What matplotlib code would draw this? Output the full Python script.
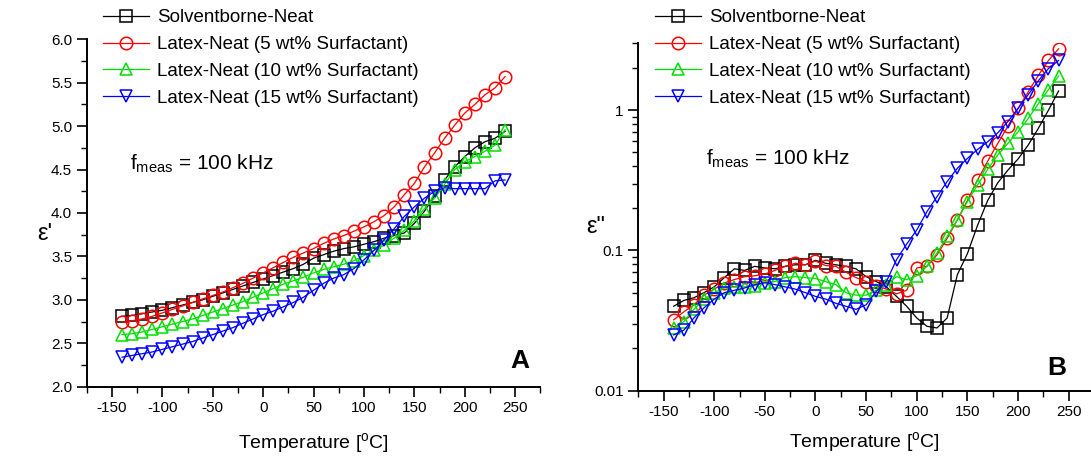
import numpy as np
import matplotlib
matplotlib.use('Agg')
from matplotlib import pyplot as plt
from matplotlib.ticker import MultipleLocator, LogLocator, NullFormatter, FixedLocator

plt.rcParams['font.family'] = ['Liberation Sans', 'DejaVu Sans']
plt.rcParams['mathtext.fontset'] = 'custom'
plt.rcParams['mathtext.rm'] = 'Liberation Sans'
plt.rcParams['mathtext.it'] = 'Liberation Sans:italic'
plt.rcParams['axes.unicode_minus'] = False

# temperature axis, -140 .. 240 C
temp = list(range(-140, 250, 10))

labels = ['Solventborne-Neat', 'Latex-Neat (5 wt% Surfactant)',
          'Latex-Neat (10 wt% Surfactant)', 'Latex-Neat (15 wt% Surfactant)']

# panel A: eps'
eps1_solvent = [2.81, 2.82, 2.84, 2.86, 2.88, 2.91, 2.94, 2.97, 3.00, 3.04,
                3.08, 3.12, 3.16, 3.20, 3.24, 3.28, 3.32, 3.36, 3.41, 3.48,
                3.52, 3.56, 3.59, 3.61, 3.64, 3.67, 3.71, 3.74, 3.77, 3.88,
                4.02, 4.20, 4.38, 4.53, 4.65, 4.75, 4.82, 4.86, 4.94]
eps1_latex5 = [2.74, 2.76, 2.78, 2.81, 2.85, 2.89, 2.93, 2.97, 3.01, 3.05,
               3.09, 3.14, 3.19, 3.25, 3.31, 3.37, 3.43, 3.49, 3.54, 3.59,
               3.65, 3.70, 3.74, 3.79, 3.84, 3.90, 3.97, 4.07, 4.21, 4.34,
               4.53, 4.69, 4.86, 5.01, 5.15, 5.25, 5.36, 5.44, 5.57]
eps1_latex10 = [2.60, 2.61, 2.63, 2.66, 2.69, 2.72, 2.75, 2.78, 2.82, 2.86,
                2.90, 2.94, 2.98, 3.03, 3.08, 3.13, 3.18, 3.22, 3.26, 3.31,
                3.35, 3.38, 3.41, 3.45, 3.51, 3.57, 3.63, 3.71, 3.80, 3.91,
                4.05, 4.17, 4.33, 4.50, 4.59, 4.65, 4.71, 4.78, 4.96]
eps1_latex15 = [2.34, 2.36, 2.38, 2.40, 2.43, 2.46, 2.49, 2.52, 2.56, 2.60,
                2.64, 2.68, 2.73, 2.78, 2.83, 2.87, 2.92, 2.97, 3.03, 3.11,
                3.19, 3.25, 3.29, 3.36, 3.46, 3.57, 3.69, 3.82, 3.96, 4.07,
                4.17, 4.25, 4.29, 4.28, 4.28, 4.28, 4.28, 4.37, 4.38]

# panel B: eps''
eps2_solvent = [0.040, 0.044, 0.046, 0.050, 0.055, 0.064, 0.074, 0.072, 0.077, 0.075,
                0.074, 0.077, 0.079, 0.079, 0.085, 0.081, 0.079, 0.077, 0.074, 0.065,
                0.060, 0.055, 0.047, 0.040, 0.033, 0.0288, 0.028, 0.033, 0.067, 0.095,
                0.151, 0.227, 0.304, 0.374, 0.449, 0.564, 0.741, 1.00, 1.37]
eps2_latex5 = [0.032, 0.0365, 0.041, 0.048, 0.053, 0.0586, 0.062, 0.065, 0.066, 0.068,
               0.072, 0.077, 0.081, 0.079, 0.084, 0.078, 0.077, 0.070, 0.064, 0.060,
               0.056, 0.053, 0.049, 0.052, 0.075, 0.077, 0.093, 0.122, 0.165, 0.227,
               0.318, 0.433, 0.58, 0.77, 1.03, 1.35, 1.77, 2.26, 2.74]
eps2_latex10 = [0.028, 0.031, 0.038, 0.045, 0.050, 0.054, 0.055, 0.055, 0.056, 0.0586,
                0.060, 0.064, 0.065, 0.064, 0.063, 0.060, 0.057, 0.050, 0.048, 0.048,
                0.052, 0.057, 0.065, 0.062, 0.066, 0.077, 0.096, 0.126, 0.165, 0.223,
                0.293, 0.379, 0.479, 0.58, 0.70, 0.873, 1.11, 1.40, 1.75]
eps2_latex15 = [0.025, 0.027, 0.033, 0.039, 0.045, 0.050, 0.052, 0.054, 0.057, 0.059,
                0.057, 0.055, 0.053, 0.050, 0.047, 0.045, 0.042, 0.040, 0.038, 0.041,
                0.051, 0.060, 0.086, 0.111, 0.140, 0.189, 0.242, 0.31, 0.385, 0.453,
                0.525, 0.595, 0.69, 0.83, 1.03, 1.29, 1.62, 1.98, 2.26]

colors = ['black', '#ff0000', '#00e000', '#0000ff']
markers = ['s', 'o', '^', 'v']

fig = plt.figure(figsize=(10.91, 4.59), dpi=100)
ax1 = fig.add_axes([0.0795, 0.1575, 0.4158, 0.757])
ax2 = fig.add_axes([0.585, 0.1488, 0.415, 0.757])

for ax, series in [(ax1, [eps1_solvent, eps1_latex5, eps1_latex10, eps1_latex15]),
                   (ax2, [eps2_solvent, eps2_latex5, eps2_latex10, eps2_latex15])]:
    for vals, c, m, lab in zip(series, colors, markers, labels):
        ax.plot(temp, vals, color=c, lw=0.9, marker=m, ms=9, mfc='none',
                mec=c, mew=1.1, label=lab)
    ax.spines['top'].set_visible(False)
    ax.spines['right'].set_visible(False)
    ax.spines['left'].set_linewidth(1.4)
    ax.spines['bottom'].set_linewidth(1.4)
    ax.set_xlim(-175, 275)
    ax.xaxis.set_major_locator(FixedLocator([-150, -100, -50, 0, 50, 100, 150, 200, 250]))
    ax.xaxis.set_minor_locator(MultipleLocator(25))
    ax.tick_params(which='major', direction='out', length=7, width=1.2, labelsize=11)
    ax.tick_params(which='minor', direction='out', length=4, width=1.0)
    ax.legend(loc='upper left', frameon=False, fontsize=13.5, numpoints=1,
              handlelength=2.5, handletextpad=0.4, labelspacing=0.52,
              borderpad=0, borderaxespad=0, bbox_transform=fig.transFigure,
              bbox_to_anchor=(0.094 if ax is ax1 else 0.6, 0.98))

ax1.set_xlabel('Temperature [$^{\\rm o}$C]', fontsize=14, labelpad=11)
ax2.set_xlabel('Temperature [$^{\\rm o}$C]', fontsize=14, labelpad=8)

ax1.set_ylim(2.0, 6.0)
ax1.yaxis.set_major_locator(MultipleLocator(0.5))
ax1.yaxis.set_minor_locator(MultipleLocator(0.25))
ax1.yaxis.set_major_formatter(matplotlib.ticker.FormatStrFormatter('%.1f'))

ax2.set_xlim(-175, 272)
ax2.set_yscale('log')
ax2.set_ylim(0.01, 3.0)
ax2.yaxis.set_major_locator(LogLocator(base=10))
ax2.yaxis.set_minor_locator(LogLocator(base=10, subs=np.arange(2, 10)))
ax2.yaxis.set_minor_formatter(NullFormatter())
ax2.yaxis.set_major_formatter(matplotlib.ticker.FuncFormatter(lambda v, p: '%g' % v))

fig.text(0.034, 0.49, "\u03b5'", fontsize=17, ha='left', va='center')
fig.text(0.537, 0.505, '\u03b5"', fontsize=17, ha='left', va='center')

ax1.text(0.095, 0.625, 'f$_{\\rm meas}$ = 100 kHz', transform=ax1.transAxes, fontsize=15)
ax2.text(0.15, 0.65, 'f$_{\\rm meas}$ = 100 kHz', transform=ax2.transAxes, fontsize=15)
ax1.text(0.955, 0.054, 'A', transform=ax1.transAxes, fontsize=19, fontweight='bold', ha='center')
ax2.text(0.924, 0.045, 'B', transform=ax2.transAxes, fontsize=19, fontweight='bold', ha='center')

fig.savefig('out.png', dpi=100)
